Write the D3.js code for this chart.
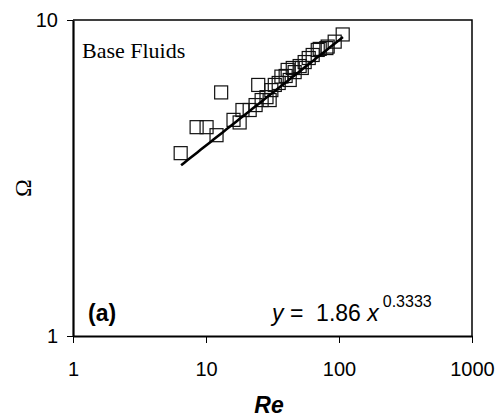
<!DOCTYPE html>
<html>
<head>
<meta charset="utf-8">
<script src="https://cdn.jsdelivr.net/npm/d3@7/dist/d3.min.js"></script>
<style>
  body { margin: 0; background: #fff; }
  svg { display: block; }
  text { white-space: pre; }
</style>
</head>
<body>
<div id="chart"></div>
<script>
"use strict";

// Re / Omega pairs for the base fluids
const reValues = [
  6.45, 8.5, 10.1, 12.0, 13.0, 16.1, 17.9, 18.8, 21.3, 23.6,
  24.7, 26.2, 28.5, 30.1, 31.0, 32.9, 35.2, 36.9, 39.7, 41.1,
  42.6, 44.9, 46.4, 50.6, 52.5, 55.2, 59.2, 63.4, 69.2, 71.6,
  80.4, 82.2, 92.8, 106.6
];
const omegaValues = [
  3.79, 4.58, 4.58, 4.32, 5.90, 4.83, 4.74, 5.19, 5.19, 5.38,
  6.23, 5.58, 5.70, 5.58, 6.00, 6.23, 6.32, 6.62, 6.65, 6.95,
  6.46, 7.05, 6.84, 7.15, 7.05, 7.36, 7.58, 7.75, 8.04, 8.10,
  8.15, 8.24, 8.54, 9.00
];

// power-law fit  y = 1.86 x^0.3333
const fitCoef = 1.86;
const fitExp = 0.3333;
const fitRange = [6.5, 107];

const xTicks = [1, 10, 100, 1000];
const yTicks = [1, 10];

const W = 500, H = 418;
const margin = { top: 20, right: 28, bottom: 82, left: 73 };

const svg = d3.select("#chart").append("svg")
  .attr("width", W)
  .attr("height", H);

const x = d3.scaleLog().domain([1, 1000]).range([margin.left, W - margin.right]);
const y = d3.scaleLog().domain([1, 10]).range([H - margin.bottom, margin.top]);

const fmt = d3.format("d");
const SANS = "Arial, 'Liberation Sans', sans-serif";
const SERIF = "'Liberation Serif', 'Times New Roman', serif";

// ── Axes ───────────────────────────────────────────────────────────────
const xAxis = svg.append("g")
  .attr("transform", `translate(0,${y(1)})`)
  .call(d3.axisBottom(x).tickValues(xTicks).tickFormat(fmt).tickSize(7).tickSizeOuter(0));

const yAxis = svg.append("g")
  .attr("transform", `translate(${x(1)},0)`)
  .call(d3.axisLeft(y).tickValues(yTicks).tickFormat(fmt).tickSize(6).tickSizeOuter(0));

[xAxis, yAxis].forEach((g) => {
  g.select(".domain").attr("stroke", "#000").attr("stroke-width", 2.2);
  g.selectAll(".tick line").attr("stroke", "#000").attr("stroke-width", 1);
  g.selectAll(".tick text")
    .attr("fill", "#000")
    .style("font-family", SANS)
    .style("font-size", "20px");
});
xAxis.selectAll(".tick text").attr("dy", "0").attr("y", 40);
yAxis.selectAll(".tick text").attr("x", -15);

// top and right frame
svg.append("path")
  .attr("d", `M${x(1)},${y(10)}H${x(1000)}V${y(1)}`)
  .attr("fill", "none")
  .attr("stroke", "#000")
  .attr("stroke-width", 1.5);

// ── Markers ────────────────────────────────────────────────────────────
const pts = reValues.map((re, i) => ({ re, om: omegaValues[i] }));
const S = 13;
svg.append("g")
  .selectAll("rect")
  .data(pts)
  .join("rect")
  .attr("x", (d) => x(d.re) - S / 2)
  .attr("y", (d) => y(d.om) - S / 2)
  .attr("width", S)
  .attr("height", S)
  .attr("fill", "none")
  .attr("stroke", "#111")
  .attr("stroke-width", 1.2);

// ── Fit line ───────────────────────────────────────────────────────────
const fitPts = d3.range(0, 51).map((i) => {
  const re = fitRange[0] * Math.pow(fitRange[1] / fitRange[0], i / 50);
  return [re, fitCoef * Math.pow(re, fitExp)];
});
svg.append("path")
  .datum(fitPts)
  .attr("d", d3.line().x((d) => x(d[0])).y((d) => y(d[1])))
  .attr("fill", "none")
  .attr("stroke", "#000")
  .attr("stroke-width", 2.6);

// ── Labels ─────────────────────────────────────────────────────────────
svg.append("text")
  .attr("x", 82).attr("y", 58)
  .style("font-family", SERIF)
  .style("font-size", "22px")
  .text("Base Fluids");

svg.append("text")
  .attr("x", 88).attr("y", 321)
  .style("font-family", SANS)
  .style("font-size", "23px")
  .style("font-weight", "bold")
  .text("(a)");

const eq = svg.append("text")
  .attr("x", 272).attr("y", 321)
  .style("font-family", SANS)
  .style("font-size", "23px");
eq.append("tspan").style("font-style", "italic").text("y");
eq.append("tspan").text(" =  1.86 ");
eq.append("tspan").style("font-style", "italic").text("x");
eq.append("tspan").attr("dx", 4).attr("dy", -14).style("font-size", "16px").text("0.3333");

svg.append("text")
  .attr("x", 269).attr("y", 413)
  .attr("text-anchor", "middle")
  .style("font-family", SANS)
  .style("font-size", "23px")
  .style("font-weight", "bold")
  .style("font-style", "italic")
  .text("Re");

svg.append("text")
  .attr("transform", `translate(31,188) rotate(-90)`)
  .attr("text-anchor", "middle")
  .style("font-family", SERIF)
  .style("font-size", "24px")
  .text("Ω");
</script>
</body>
</html>
